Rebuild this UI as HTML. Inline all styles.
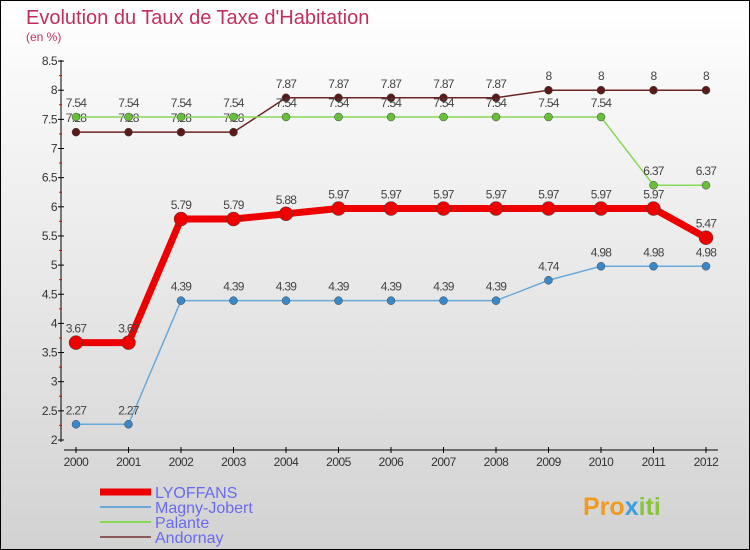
<!DOCTYPE html>
<html><head><meta charset="utf-8"><style>
body{margin:0;width:750px;height:550px;overflow:hidden}
svg{display:block;font-family:"Liberation Sans",sans-serif}
</style></head><body>
<svg id="c" width="750" height="550">
<defs><linearGradient id="bg" x1="0" y1="0" x2="0" y2="1"><stop offset="0" stop-color="#ffffff"/><stop offset="1" stop-color="#d2d2d2"/></linearGradient></defs>
<rect x="0.5" y="0.5" width="749" height="549" fill="url(#bg)" stroke="#000"/>
<text x="26" y="24" font-size="20" fill="#c0305a">Evolution du Taux de Taxe d'Habitation</text>
<text x="26" y="41" font-size="12" fill="#c0305a">(en %)</text>
<g id="axes"></g><g id="series"></g><g id="legend"></g>
<text x="583" y="515" font-size="25" font-weight="bold" fill="#f29a1c">Pro<tspan fill="#3aa0e0">x</tspan><tspan fill="#8ac43c">iti</tspan></text>
</svg>
<script>
const years=[2000,2001,2002,2003,2004,2005,2006,2007,2008,2009,2010,2011,2012];
const yTicks=[2,2.5,3,3.5,4,4.5,5,5.5,6,6.5,7,7.5,8,8.5];
const lyoffans=[3.67,3.67,5.79,5.79,5.88,5.97,5.97,5.97,5.97,5.97,5.97,5.97,5.47];
const magny=[2.27,2.27,4.39,4.39,4.39,4.39,4.39,4.39,4.39,4.74,4.98,4.98,4.98];
const palante=[7.54,7.54,7.54,7.54,7.54,7.54,7.54,7.54,7.54,7.54,7.54,6.37,6.37];
const andornay=[7.28,7.28,7.28,7.28,7.87,7.87,7.87,7.87,7.87,8,8,8,8];
const names=["LYOFFANS","Magny-Jobert","Palante","Andornay"];
const NS="http://www.w3.org/2000/svg";
const xs=i=>76+i*52.5;
const ys=v=>440-(v-2)*58.3;
function mk(p,t,a){const e=document.createElementNS(NS,t);for(const k in a)e.setAttribute(k,a[k]);p.appendChild(e);return e;}
const ax=document.getElementById('axes');
let l=mk(ax,'line',{x1:61,y1:60,x2:61,y2:442,stroke:'#000'});

l=mk(ax,'line',{x1:64,y1:450,x2:718,y2:450,stroke:'#000'});

yTicks.forEach((v,k)=>{const y=ys(v);
 mk(ax,'line',{x1:58,y1:y,x2:64,y2:y,stroke:'#000'});
 if(k<yTicks.length-1)mk(ax,'line',{x1:59,y1:y-14.6,x2:62,y2:y-14.6,stroke:'#e00'});
 const t=mk(ax,'text',{x:57,y:y+4,'font-size':12,fill:'#333','text-anchor':'end','letter-spacing':'-0.5'});t.textContent=v;
 });
years.forEach((yr,i)=>{const x=xs(i);
 mk(ax,'line',{x1:x,y1:447,x2:x,y2:453,stroke:'#000'});
 const t=mk(ax,'text',{x:x,y:466,'font-size':12,fill:'#333','text-anchor':'middle','letter-spacing':'-0.5'});t.textContent=yr;
 });
const sg=document.getElementById('series');
const defs=[[andornay,'#6b2424','#5a1a1a',1.5,4,'andornay'],[palante,'#88d858','#66c03a',1.5,4,'palante'],[magny,'#6aaad8','#3a88c8',1.5,4,'magny-jobert'],[lyoffans,'#ee0000','#ee0000',7,7,'lyoffans']];
defs.forEach(([d,c,f,w,r,n])=>{
 const g=mk(sg,'g',{});
 const p=mk(g,'polyline',{points:d.map((v,i)=>xs(i)+','+ys(v)).join(' '),fill:'none',stroke:c,'stroke-width':w});
 
 d.forEach((v,i)=>{const m=mk(g,'circle',{cx:xs(i),cy:ys(v),r:r,fill:f,stroke:'#444','stroke-width':0.5});
  
  const t=mk(g,'text',{x:xs(i),y:ys(v)-10,'font-size':12,fill:'#444','text-anchor':'middle','letter-spacing':'-0.7'});t.textContent=v;
  });
});
const lg=document.getElementById('legend');
const lc=[['#ee0000',7],['#6aaad8',2],['#88d858',2],['#8a5a5a',2]];
names.forEach((n,i)=>{const y=492+i*15;
 const g=mk(lg,'g',{});
 mk(g,'line',{x1:100,y1:y,x2:151,y2:y,stroke:lc[i][0],'stroke-width':lc[i][1]});
 const t=mk(g,'text',{x:155,y:y+6,'font-size':16,fill:'#6a6aee'});t.textContent=n;});
</script>
</body></html>
